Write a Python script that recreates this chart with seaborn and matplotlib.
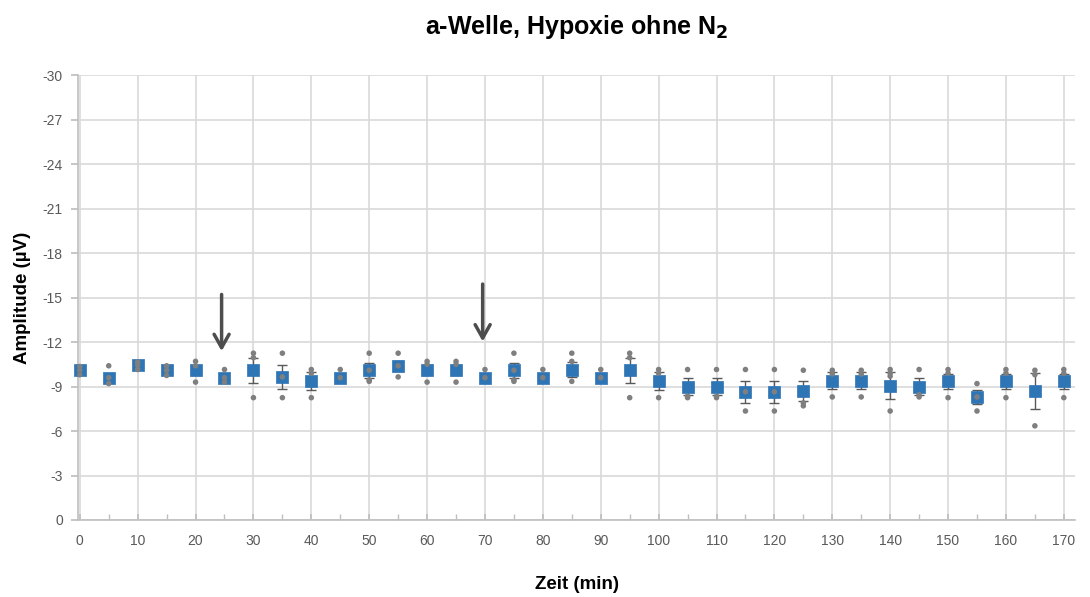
import numpy as np
import pandas as pd
import matplotlib
matplotlib.use("Agg")
import matplotlib.pyplot as plt
import seaborn as sns

# Zeitpunkte (min) und Mittelwerte der a-Welle (µV)
zeit = list(range(0, 175, 5))
mittel = [-10.1, -9.6, -10.45, -10.1, -10.1, -9.6, -10.1, -9.65, -9.35, -9.6,
          -10.1, -10.4, -10.1, -10.1, -9.6, -10.1, -9.6, -10.15, -9.6, -10.1,
          -9.35, -9.0, -9.0, -8.65, -8.65, -8.7, -9.4, -9.4, -9.05, -9.0,
          -9.35, -8.3, -9.35, -8.7, -9.35]
fehler = [0.2, 0.2, 0.15, 0.15, 0.3, 0.2, 0.85, 0.8, 0.6, 0.15,
          0.5, 0.35, 0.35, 0.35, 0.15, 0.5, 0.15, 0.5, 0.15, 0.85,
          0.6, 0.6, 0.6, 0.75, 0.75, 0.65, 0.55, 0.55, 0.9, 0.6,
          0.5, 0.5, 0.5, 1.2, 0.5]

# Einzelwerte (Versuche)
nan = np.nan
versuch_1 = [-10.35, -10.4, -10.65, -10.4, -10.7, -10.15, -11.25, -11.25, -10.15, -10.15,
             -11.25, -11.25, -10.7, -10.7, -10.15, -11.25, -10.15, -11.25, -10.15, -11.25,
             -10.15, -10.15, -10.15, -10.15, -10.15, -10.1, -10.1, -10.1, -10.15, -10.15,
             -10.15, -9.2, -10.15, -10.1, -10.15]
versuch_2 = [-10.1, -9.6, -10.45, -10.1, -10.4, -9.6, -10.95, -9.65, -9.9, -9.6,
             -10.1, -10.4, -10.5, -10.5, -9.6, -10.1, -9.6, -10.7, -9.6, -10.95,
             -9.9, -8.35, -8.35, -8.65, -8.65, -7.9, -9.85, -9.85, -9.9, -8.45,
             -9.9, -8.3, -9.9, -9.8, -9.9]
versuch_3 = [-9.8, -9.2, -10.15, -9.75, -9.3, -9.3, -8.25, -8.25, -8.25, nan,
             -9.45, -9.65, -9.3, -9.3, nan, -9.45, nan, -9.35, nan, -8.25,
             -8.25, -8.25, -8.25, -7.35, -7.35, -7.7, -8.3, -8.3, -7.35, -8.3,
             -8.25, -7.35, -8.25, -6.35, -8.25]
versuch_4 = [nan, nan, nan, nan, nan, nan, nan, nan, nan, nan,
             -9.35, nan, nan, nan, nan, -9.35, nan, nan, nan, nan,
             nan, nan, nan, nan, nan, nan, nan, nan, -9.7, nan,
             nan, nan, nan, nan, nan]

# Pfeile (Beginn / Ende Hypoxie)
pfeil_x = [24.5, 69.6]
pfeil_start = [-15.4, -16.1]
pfeil_ende = [-11.2, -11.85]

df_mittel = pd.DataFrame({"zeit": zeit, "mittel": mittel, "fehler": fehler})
df_einzel = pd.concat([
    pd.DataFrame({"zeit": zeit, "wert": v}) for v in [versuch_1, versuch_2, versuch_3, versuch_4]
]).dropna()

sns.set_theme(style="whitegrid")
plt.rcParams['font.family'] = ['Liberation Sans', 'DejaVu Sans']
plt.rcParams['axes.unicode_minus'] = False

fig = plt.figure(figsize=(10.9, 5.97), dpi=100)
ax = fig.add_axes([0.0716, 0.129, 0.915, 0.745])

grau = "#595959"

ax.errorbar(df_mittel["zeit"], df_mittel["mittel"], yerr=df_mittel["fehler"],
            fmt="none", ecolor=grau, elinewidth=1.0, capsize=3.5, capthick=1.0, zorder=3)
sns.scatterplot(data=df_mittel, x="zeit", y="mittel", marker="s", s=85,
                color="#2e75b6", edgecolor="#2e75b6", linewidth=0.5, ax=ax, zorder=4)
sns.scatterplot(data=df_einzel, x="zeit", y="wert", s=16, color="#7f7f7f",
                edgecolor="none", ax=ax, zorder=5)
for c in ax.collections:
    c.set_clip_on(False)

for x, y0, y1 in zip(pfeil_x, pfeil_start, pfeil_ende):
    ax.annotate("", xy=(x, y1), xytext=(x, y0),
                arrowprops=dict(arrowstyle="->,head_length=0.8,head_width=0.45",
                                color="#4d4d4d", lw=2.5), zorder=6)

ax.set_xlim(-0.3, 172)
ax.set_ylim(0, -30)
ax.set_xticks(range(0, 180, 10))
ax.set_xticks(range(5, 175, 10), minor=True)
ax.set_yticks(range(0, -33, -3))

ax.grid(True, which="major", color="#d9d9d9", linewidth=1.2)
ax.grid(False, which="minor")
for s in ["top", "right"]:
    ax.spines[s].set_visible(False)
for s in ["left", "bottom"]:
    ax.spines[s].set_color("#bfbfbf")
    ax.spines[s].set_linewidth(1.2)

ax.tick_params(axis="x", which="both", direction="in", length=4, color="#bfbfbf",
               labelsize=10, labelcolor=grau, pad=10, bottom=True)
ax.tick_params(axis="y", which="major", direction="out", length=5, color="#bfbfbf",
               labelsize=10, labelcolor=grau, pad=6, left=True)

ax.set_xlabel("Zeit (min)", fontsize=13.5, fontweight="bold", color="black", labelpad=20)
ax.set_ylabel("Amplitude (µV)", fontsize=13.5, fontweight="bold", color="black", labelpad=8)
ax.set_title("a-Welle, Hypoxie ohne N$_\\mathbf{2}$", fontsize=18, fontweight="bold",
             color="black", pad=30)

fig.savefig("out.png", dpi=100)
